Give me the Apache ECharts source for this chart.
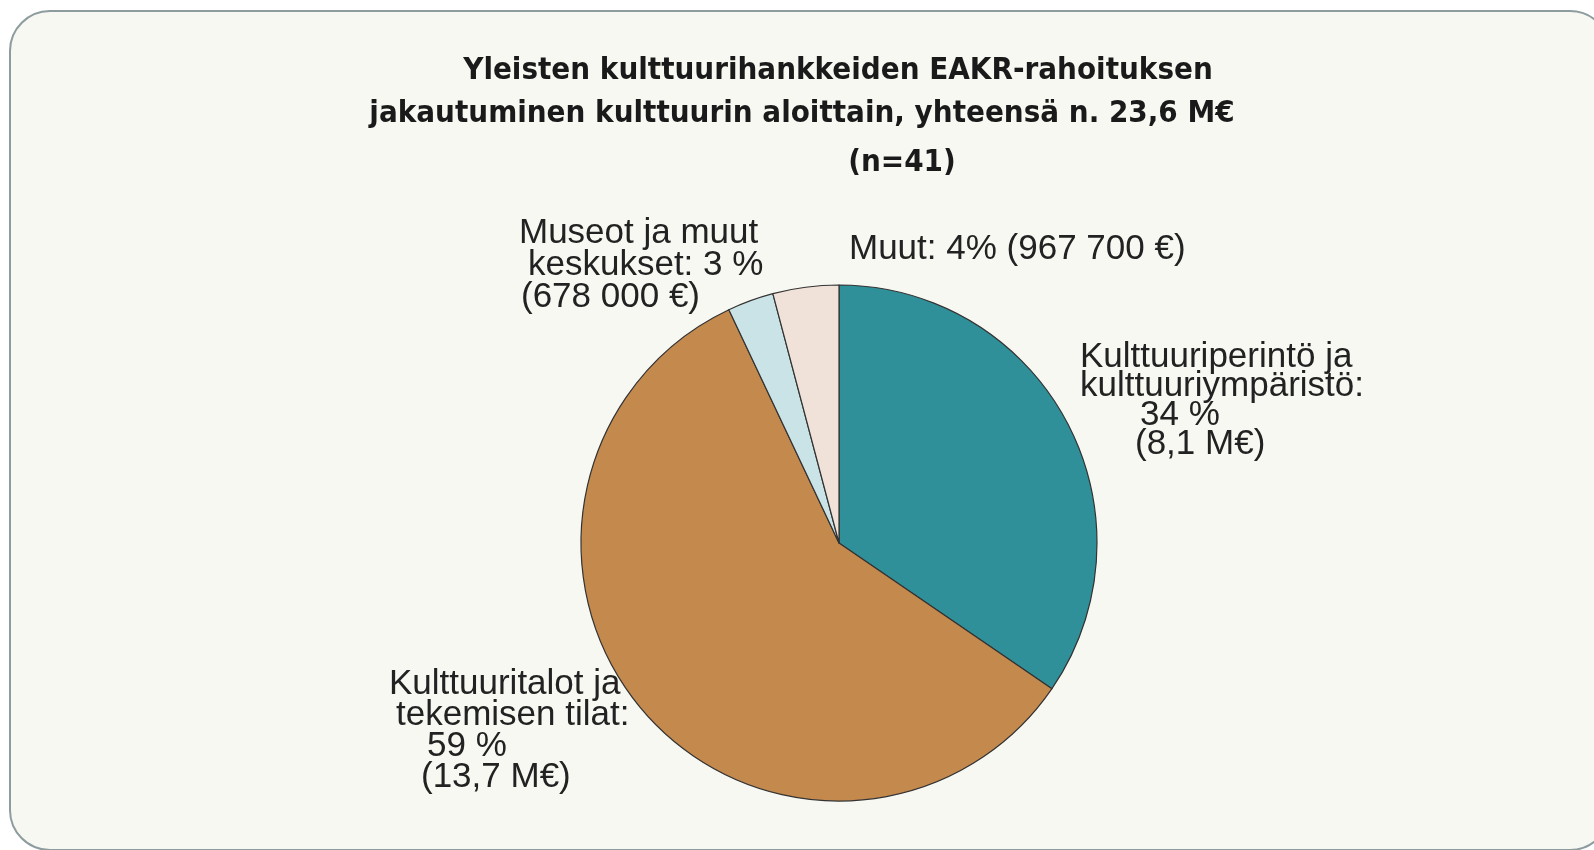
<!DOCTYPE html>
<html>
<head>
<meta charset="utf-8">
<script src="https://cdn.jsdelivr.net/npm/echarts@6/dist/echarts.min.js"></script>
<style>
  html, body { margin: 0; padding: 0; background: #ffffff; }
  #chart { width: 1594px; height: 850px; }
</style>
</head>
<body>
<div id="chart"></div>
<script>
// data (M€), clockwise from 12 o'clock
const categories = ['Kulttuuriperintö ja kulttuuriympäristö', 'Kulttuuritalot ja tekemisen tilat', 'Museot ja muut keskukset', 'Muut'];
const values = [8.1, 13.7, 0.678, 0.9677];
const labelNames = ['Kulttuuriperintö ja\nkulttuuriympäristö:', 'Kulttuuritalot ja\ntekemisen tilat:', 'Museot ja muut\nkeskukset:', 'Muut:'];
const shares = ['34 %', '59 %', '3 %', '4%'];
const amounts = ['(8,1 M€)', '(13,7 M€)', '(678 000 €)', '(967 700 €)'];
const titleLines = [
  'Yleisten kulttuurihankkeiden EAKR-rahoituksen',
  'jakautuminen kulttuurin aloittain, yhteensä n. 23,6 M€',
  '(n=41)'
];

const colors = ['#30909a', '#c4894d', '#c9e3e7', '#f1e2d9'];

// label placement (pixels), line height and per-line indent
const labelSpec = [
  { x: 1080, y: 343, lh: 29, indent: [0, 0, 60, 55] },
  { x: 387, y: 669, lh: 31, indent: [2, 9, 40, 34] },
  { x: 519, y: 217, lh: 32, indent: [0, 9, 2], join: 'share' },
  { x: 849, y: 233, lh: 32, indent: [0], join: 'all' }
];

function labelLines(i) {
  const spec = labelSpec[i];
  let lines = labelNames[i].split('\n');
  if (spec.join === 'all') {
    return [lines.join(' ') + ' ' + shares[i] + ' ' + amounts[i]];
  }
  if (spec.join === 'share') {
    lines[lines.length - 1] += ' ' + shares[i];
  } else {
    lines.push(shares[i]);
  }
  lines.push(amounts[i]);
  return lines;
}

const labelFont = { fontFamily: 'Liberation Sans, Arial, sans-serif', fontSize: 35, color: '#222' };

const pieData = values.map((v, i) => {
  const spec = labelSpec[i];
  const lines = labelLines(i);
  const rich = {};
  lines.forEach((l, k) => {
    rich['i' + k] = Object.assign({ lineHeight: spec.lh, padding: [0, 0, 0, spec.indent[k] || 0] }, labelFont);
  });
  return {
    name: categories[i],
    value: v,
    itemStyle: { color: colors[i] },
    label: {
      formatter: lines.map((l, k) => '{i' + k + '|' + l + '}').join('\n'),
      rich: rich,
      align: 'left'
    }
  };
});

const titleFont = { fontFamily: 'Liberation Sans Narrow, DejaVu Sans Condensed, Arial Narrow, sans-serif', fontSize: 31, fontWeight: 'bold', color: '#1a1a1a' };
const titlePos = [[833, 50], [797, 93], [897, 142]];

const chart = echarts.init(document.getElementById('chart'));
chart.setOption({
  animation: false,
  graphic: [{
    type: 'rect',
    z: -10,
    shape: { x: 10, y: 11, width: 1600, height: 839, r: 40 },
    style: { fill: '#f8f8f3', stroke: '#8d9c9e', lineWidth: 2 }
  }],
  title: titleLines.map((t, i) => ({
    text: t,
    left: titlePos[i][0],
    top: titlePos[i][1],
    textAlign: 'center',
    textStyle: titleFont
  })),
  series: [{
    type: 'pie',
    center: [839, 543],
    radius: 258,
    startAngle: 90,
    clockwise: true,
    data: pieData,
    itemStyle: { borderColor: '#333', borderWidth: 1.2 },
    label: { show: true, position: 'outside' },
    labelLine: { show: false },
    labelLayout: function (params) {
      const spec = labelSpec[params.dataIndex];
      return { x: spec.x, y: spec.y, align: 'left', verticalAlign: 'top' };
    },
    emphasis: { disabled: true }
  }]
});
</script>
</body>
</html>
